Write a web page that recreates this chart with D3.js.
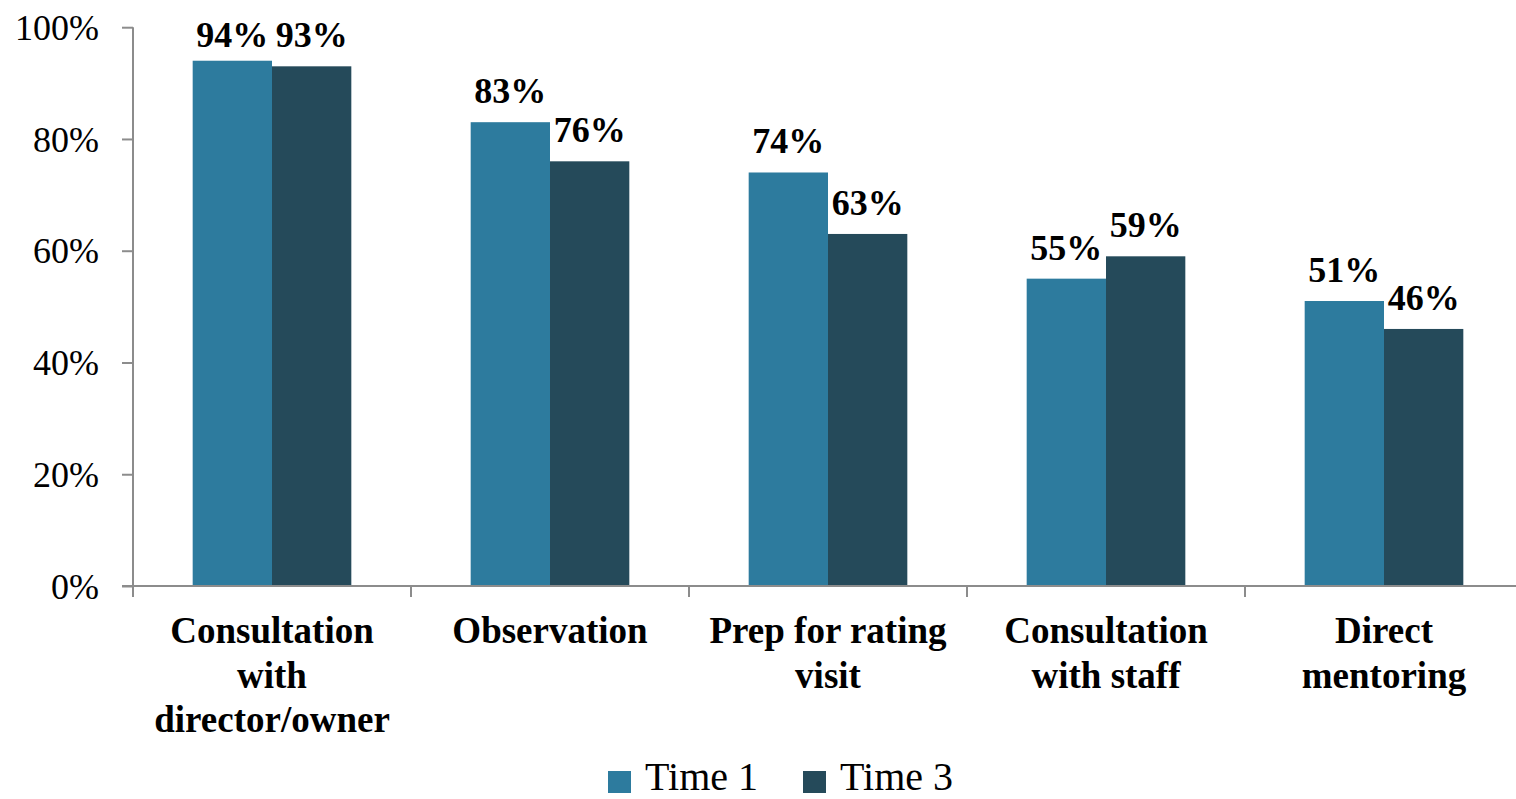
<!DOCTYPE html>
<html>
<head>
<meta charset="utf-8">
<script src="https://cdn.jsdelivr.net/npm/d3@7"></script>
<style>
  html, body { margin: 0; padding: 0; background: #fff; }
  svg { display: block; }
  text { font-family: "Liberation Serif", "DejaVu Serif", serif; fill: #000; }
</style>
</head>
<body>
<svg id="chart" width="1516" height="799"></svg>
<script>
// Share of coaching activities reported, by time point
const categories = [
  ["Consultation", "with", "director/owner"],
  ["Observation"],
  ["Prep for rating", "visit"],
  ["Consultation", "with staff"],
  ["Direct", "mentoring"]
];
const seriesNames = ["Time 1", "Time 3"];
const time1 = [94, 83, 74, 55, 51];
const time3 = [93, 76, 63, 59, 46];
const yTicks = [0, 20, 40, 60, 80, 100];
const colors = ["#2d7b9e", "#254a5a"];

const svg = d3.select("#chart");
const margin = { left: 133, top: 27.2, bottom: 586 };
const plotRight = 1523;

const catKeys = categories.map((c, i) => i);
const x = d3.scaleBand().domain(catKeys).range([margin.left, plotRight]).paddingInner(0).paddingOuter(0);
const xInner = d3.scaleBand().domain(seriesNames).range([0, x.bandwidth()]).paddingOuter(0.7524).paddingInner(0);
const y = d3.scaleLinear().domain([0, 100]).range([margin.bottom, margin.top]);

const axisColor = "#8c8c8c";

// y axis
const yAxis = svg.append("g")
  .attr("transform", `translate(${margin.left},0)`)
  .call(d3.axisLeft(y).tickValues(yTicks).tickSize(11).tickPadding(23).tickFormat(d => d + "%"));
yAxis.select(".domain").attr("stroke", axisColor).attr("stroke-width", 2)
  .attr("d", `M0,${y(100)}V${y(0)}`);
yAxis.selectAll(".tick line").attr("stroke", axisColor).attr("stroke-width", 2);
yAxis.selectAll(".tick text")
  .attr("font-size", 36).attr("font-family", "Liberation Serif").attr("fill", "#000").attr("dy", "0.34em");

// bars
const data = catKeys.map(i => ({ i, values: [time1[i], time3[i]] }));
const groups = svg.append("g").selectAll("g").data(data).join("g")
  .attr("transform", d => `translate(${x(d.i)},0)`);

groups.selectAll("rect").data(d => d.values.map((v, k) => ({ v, k })))
  .join("rect")
  .attr("x", d => xInner(seriesNames[d.k]))
  .attr("y", d => y(d.v))
  .attr("width", xInner.bandwidth())
  .attr("height", d => y(0) - y(d.v))
  .attr("fill", d => colors[d.k]);

// value labels above bars
groups.selectAll("text.val").data(d => d.values.map((v, k) => ({ v, k })))
  .join("text")
  .attr("class", "val")
  .attr("x", d => xInner(seriesNames[d.k]) + xInner.bandwidth() / 2)
  .attr("y", d => Math.max(y(d.v) - 19, 47))
  .attr("text-anchor", "middle")
  .attr("font-size", 36)
  .attr("font-weight", "bold")
  .text(d => d.v + "%");

// x axis
const xAxisG = svg.append("g").attr("transform", `translate(0,${y(0)})`);
xAxisG.append("line")
  .attr("x1", 122).attr("x2", plotRight).attr("y1", 0).attr("y2", 0)
  .attr("stroke", axisColor).attr("stroke-width", 2);
const boundaries = catKeys.map(i => x(i)).concat([plotRight]);
xAxisG.selectAll("line.tick").data(boundaries).join("line")
  .attr("class", "tick")
  .attr("x1", d => d).attr("x2", d => d).attr("y1", 0).attr("y2", 11)
  .attr("stroke", axisColor).attr("stroke-width", 2);

// category labels
const catLabels = svg.append("g").selectAll("text").data(data).join("text")
  .attr("x", d => x(d.i) + x.bandwidth() / 2)
  .attr("y", 643)
  .attr("text-anchor", "middle")
  .attr("font-size", 37)
  .attr("font-weight", "bold");
catLabels.selectAll("tspan").data(d => categories[d.i]).join("tspan")
  .attr("x", function() { return d3.select(this.parentNode).attr("x"); })
  .attr("dy", (d, j) => j === 0 ? 0 : 44.5)
  .text(d => d);

// legend
const legendItems = [
  { name: seriesNames[0], color: colors[0], sx: 608 },
  { name: seriesNames[1], color: colors[1], sx: 803 }
];
const legend = svg.append("g");
legend.selectAll("rect").data(legendItems).join("rect")
  .attr("x", d => d.sx).attr("y", 771).attr("width", 23).attr("height", 22)
  .attr("fill", d => d.color);
legend.selectAll("text").data(legendItems).join("text")
  .attr("x", d => d.sx + 37).attr("y", 790)
  .attr("font-size", 40)
  .text(d => d.name);
</script>
</body>
</html>
